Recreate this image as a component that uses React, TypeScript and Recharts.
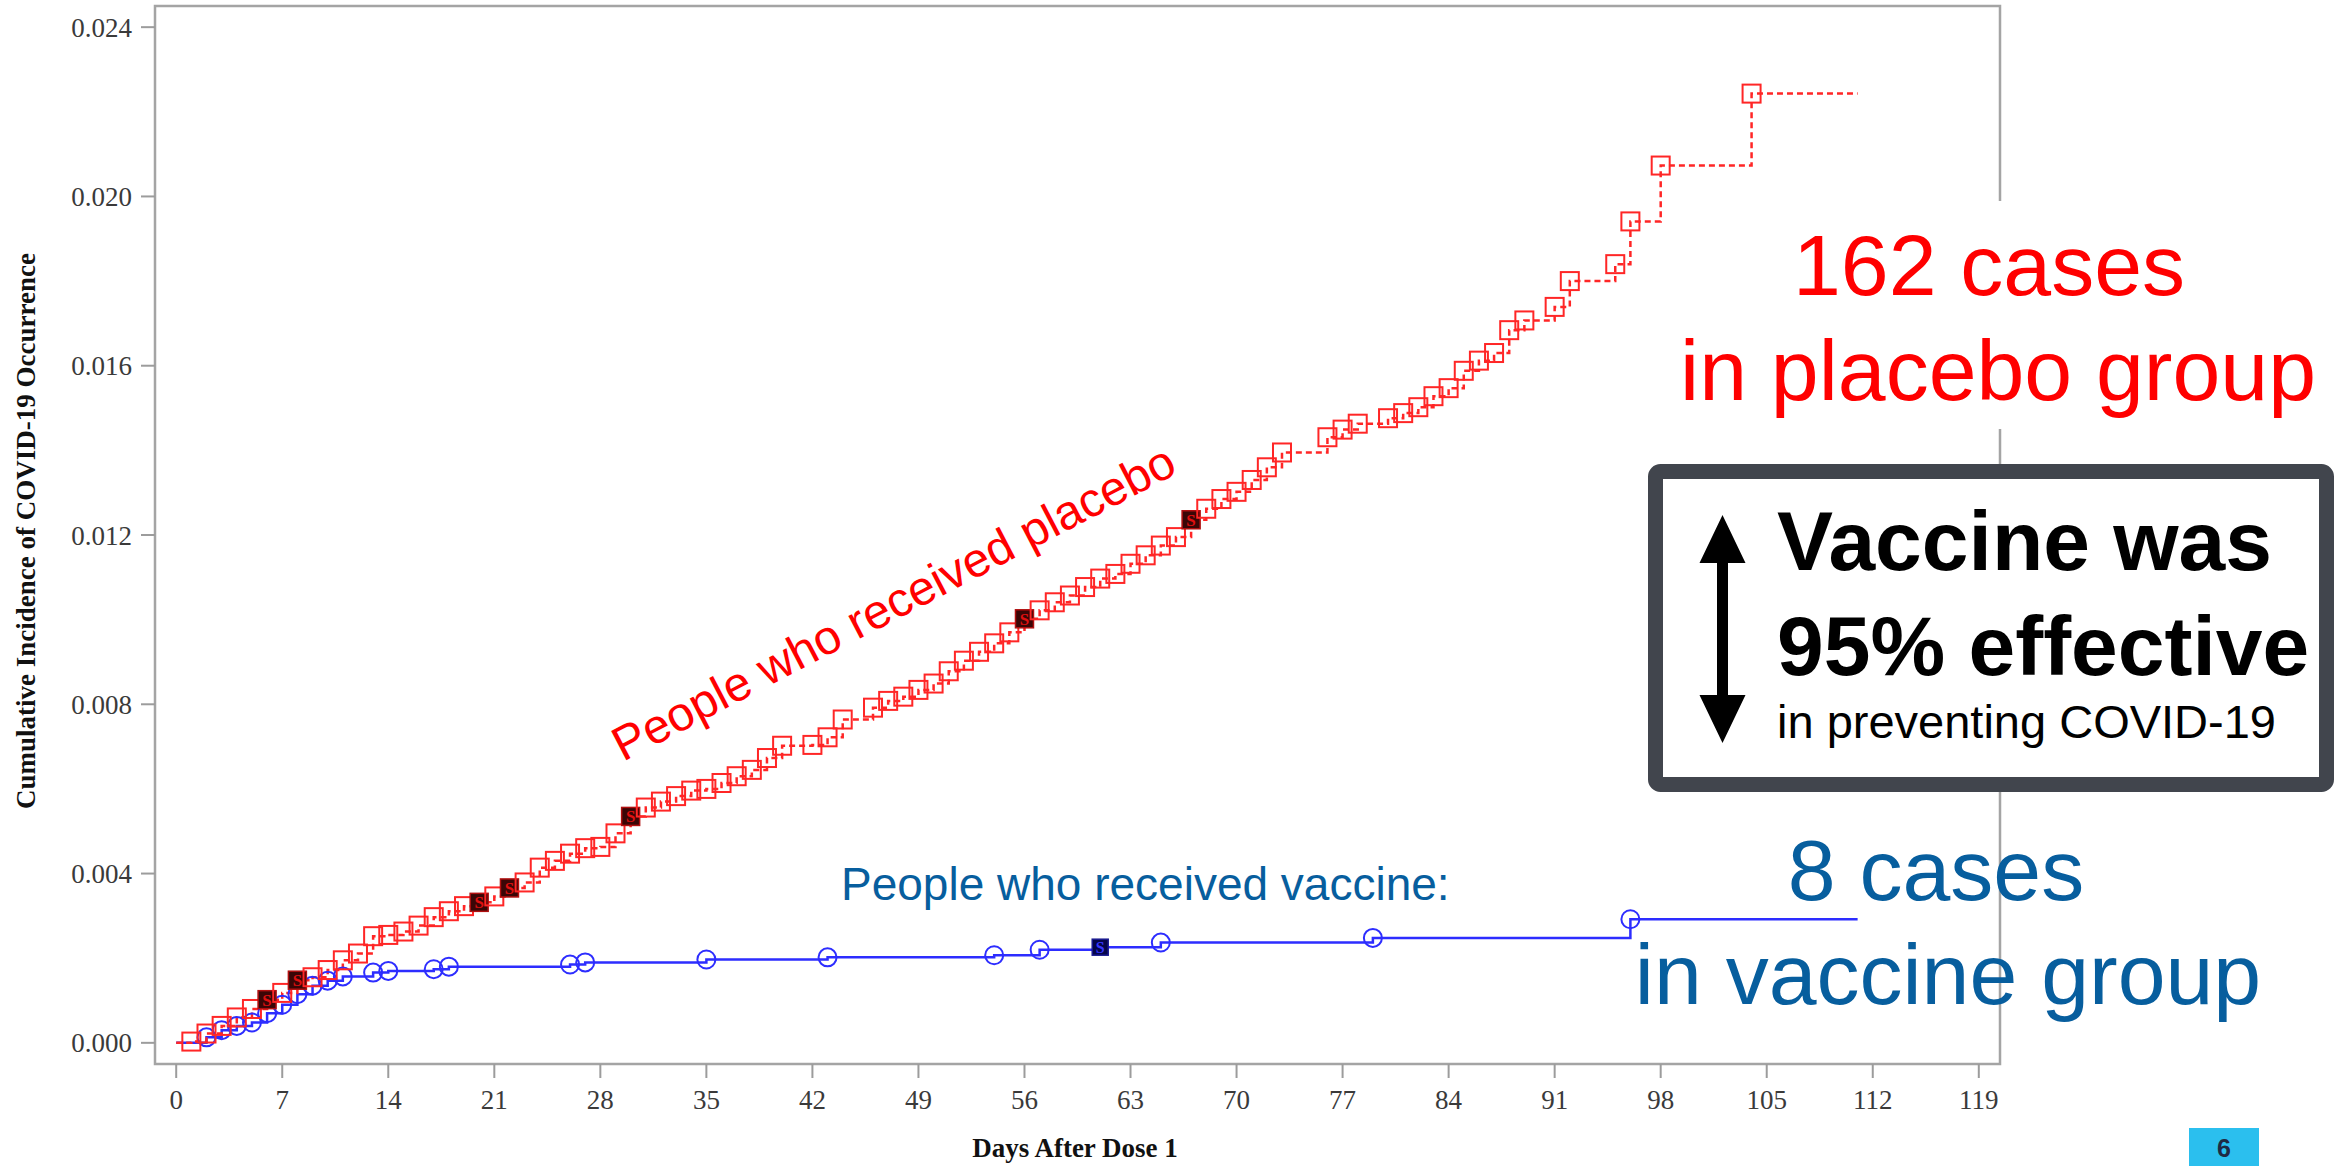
import React from 'react';
import { LineChart, Line, XAxis, YAxis, ReferenceArea } from 'recharts';

// cumulative incidence, one value per event day
const placeboDays = [
  1, 2, 3, 4, 5, 6, 7, 8, 9, 10, 11, 12, 13, 14, 15, 16, 17, 18, 19, 20,
  21, 22, 23, 24, 25, 26, 27, 28, 29, 30, 31, 32, 33, 34, 35, 36, 37, 38, 39, 40,
  42, 43, 44, 46, 47, 48, 49, 50, 51, 52, 53, 54, 55, 56, 57, 58, 59, 60,
  61, 62, 63, 64, 65, 66, 67, 68, 69, 70, 71, 72, 73, 76, 77, 78, 80,
  81, 82, 83, 84, 85, 86, 87, 88, 89, 91, 92, 95, 96, 98, 104,
];
const placeboRisk = [
  0.00003, 0.00022, 0.0004, 0.0006, 0.0008, 0.00102, 0.00118, 0.00148, 0.00155, 0.00172,
  0.00195, 0.00211, 0.00252, 0.00255, 0.00263, 0.00277, 0.00297, 0.00311, 0.00323, 0.00332,
  0.00346, 0.00366, 0.00379, 0.00414, 0.0043, 0.00447, 0.0046, 0.00463, 0.00495, 0.00535,
  0.00556, 0.0057, 0.00583, 0.00596, 0.006, 0.00614, 0.0063, 0.00645, 0.00673, 0.00702,
  0.00704, 0.00722, 0.00764, 0.00792, 0.00808, 0.00818, 0.00834, 0.00849, 0.00878, 0.00903,
  0.00924, 0.00944, 0.0097, 0.01002, 0.01022, 0.01041, 0.01057, 0.01077,
  0.01097, 0.01108, 0.01132, 0.01152, 0.01175, 0.01195, 0.01236, 0.01262, 0.01285, 0.01302,
  0.0133, 0.0136, 0.01395, 0.01431, 0.01449, 0.01463, 0.01476,
  0.01488, 0.01502, 0.01528, 0.01547, 0.01588, 0.01612, 0.0163, 0.01684, 0.01707,
  0.01739, 0.018, 0.0184, 0.01941, 0.02073, 0.02243,
];
const placeboSevereDays = [6, 8, 20, 22, 30, 56, 67];

const vaccineDays = [2, 3, 4, 5, 6, 7, 8, 9, 10, 11, 13, 14, 17, 18, 26, 27, 35, 43, 54, 57, 61, 65, 79, 96];
const vaccineRisk = [
  0.00013, 0.0003, 0.0004, 0.00048, 0.0007, 0.0009, 0.00115, 0.00135, 0.00147, 0.00157,
  0.00166, 0.0017, 0.00174, 0.0018, 0.00185, 0.0019, 0.00197, 0.00202, 0.00207, 0.0022,
  0.00226, 0.00237, 0.00248, 0.00292,
];
const vaccineSevereDays = [61];

const followUpEndDay = 111;

const xTicks = [0, 7, 14, 21, 28, 35, 42, 49, 56, 63, 70, 77, 84, 91, 98, 105, 112, 119];
const yTicks = [0, 0.004, 0.008, 0.012, 0.016, 0.02, 0.024];

const X_DOMAIN: [number, number] = [-1.4, 120.4];
const Y_DOMAIN: [number, number] = [-0.0005, 0.0245];

function buildSeries(days: number[], risk: number[], severe: number[]) {
  const rows = [{ day: 0, risk: 0, mark: 'none' }];
  days.forEach((d, i) => {
    rows.push({ day: d, risk: risk[i], mark: severe.includes(d) ? 'severe' : 'event' });
  });
  rows.push({ day: followUpEndDay, risk: risk[risk.length - 1], mark: 'none' });
  return rows;
}

const placeboSeries = buildSeries(placeboDays, placeboRisk, placeboSevereDays);
const vaccineSeries = buildSeries(vaccineDays, vaccineRisk, vaccineSevereDays);

const RED = '#ff2626';
const BLUE = '#2d2dff';
const TEXT_BLUE = '#075e9e';
const SANS = '"Liberation Sans", Arial, sans-serif';
const SERIF = '"Liberation Serif", "Times New Roman", serif';

const PlaceboDot = (props: any) => {
  const { cx, cy, payload, index } = props;
  const key = `pd-${index}`;
  if (cx == null || cy == null || payload.mark === 'none') return <g key={key} />;
  if (payload.mark === 'severe') {
    return (
      <g key={key}>
        <rect x={cx - 9} y={cy - 9} width={18} height={18} fill="#3a0606" stroke="#b01010" strokeWidth={1.5} />
        <text x={cx} y={cy + 6} textAnchor="middle" fontFamily={SERIF} fontWeight="bold" fontSize={17} fill="#e01010">S</text>
      </g>
    );
  }
  return <rect key={key} x={cx - 9} y={cy - 9} width={18} height={18} fill="none" stroke={RED} strokeWidth={2} />;
};

const VaccineDot = (props: any) => {
  const { cx, cy, payload, index } = props;
  const key = `vd-${index}`;
  if (cx == null || cy == null || payload.mark === 'none') return <g key={key} />;
  if (payload.mark === 'severe') {
    return (
      <g key={key}>
        <rect x={cx - 8} y={cy - 8} width={16} height={16} fill="#05054a" stroke="#1a1a90" strokeWidth={1.5} />
        <text x={cx} y={cy + 6} textAnchor="middle" fontFamily={SERIF} fontWeight="bold" fontSize={16} fill="#3838ff">S</text>
      </g>
    );
  }
  return <circle key={key} cx={cx} cy={cy} r={9} fill="none" stroke={BLUE} strokeWidth={2} />;
};

const tickStyle = { fontFamily: SERIF, fontSize: 27, fill: '#3a3a3a' };

export default function App() {
  return (
    <div style={{ position: 'absolute', left: 0, top: 0, width: 2334, height: 1166, background: '#fff', overflow: 'hidden' }}>
      <LineChart width={2334} height={1166} margin={{ top: 6, right: 334, bottom: 0, left: 0 }}>
        <XAxis
          type="number"
          dataKey="day"
          domain={X_DOMAIN}
          ticks={xTicks}
          allowDataOverflow
          axisLine={false}
          tickLine={{ stroke: '#9c9c9c', strokeWidth: 2 }}
          tickSize={14}
          tickMargin={12}
          height={102}
          tick={tickStyle}
        />
        <YAxis
          type="number"
          domain={Y_DOMAIN}
          ticks={yTicks}
          allowDataOverflow
          axisLine={false}
          tickLine={{ stroke: '#9c9c9c', strokeWidth: 2 }}
          tickSize={14}
          tickMargin={9}
          width={155}
          tick={tickStyle}
          tickFormatter={(v: number) => v.toFixed(3)}
        />
        <ReferenceArea
          x1={X_DOMAIN[0]}
          x2={X_DOMAIN[1]}
          y1={Y_DOMAIN[0]}
          y2={Y_DOMAIN[1]}
          fill="none"
          stroke="#a4a4a4"
          strokeWidth={2.5}
          ifOverflow="visible"
        />
        <Line
          data={vaccineSeries}
          dataKey="risk"
          type="stepAfter"
          stroke={BLUE}
          strokeWidth={2.5}
          dot={VaccineDot}
          activeDot={false}
          isAnimationActive={false}
        />
        <Line
          data={placeboSeries}
          dataKey="risk"
          type="stepAfter"
          stroke={RED}
          strokeWidth={2.5}
          strokeDasharray="6 4"
          dot={PlaceboDot}
          activeDot={false}
          isAnimationActive={false}
        />
      </LineChart>

      <svg width={2334} height={1166} style={{ position: 'absolute', left: 0, top: 0, pointerEvents: 'none' }}>
        {/* axis titles */}
        <text transform="translate(35,531) rotate(-90)" textAnchor="middle" fontFamily={SERIF} fontWeight="bold" fontSize={27} fill="#111">
          Cumulative Incidence of COVID-19 Occurrence
        </text>
        <text x={1075} y={1157} textAnchor="middle" fontFamily={SERIF} fontWeight="bold" fontSize={27} fill="#111">
          Days After Dose 1
        </text>

        {/* series labels */}
        <text transform="translate(623,762) rotate(-27.5)" fontFamily={SANS} fontSize={48} fill="#ff0000">
          People who received placebo
        </text>
        <text x={841} y={900} fontFamily={SANS} fontSize={46} fill={TEXT_BLUE}>
          People who received vaccine:
        </text>

        {/* placebo case count */}
        <rect x={1700} y={201} width={620} height={228} fill="#fff" />
        <text x={1989} y={295} textAnchor="middle" fontFamily={SANS} fontSize={86} fill="#ff0000">162 cases</text>
        <text x={1998} y={400} textAnchor="middle" fontFamily={SANS} fontSize={86} fill="#ff0000">in placebo group</text>

        {/* efficacy box */}
        <rect x={1655.5} y={471.5} width={671} height={313} rx={5} fill="#fff" stroke="#41454d" strokeWidth={15} />
        <polygon
          points="1722.5,515 1745.5,563 1728,563 1728,695 1745.5,695 1722.5,743 1699.5,695 1717,695 1717,563 1699.5,563"
          fill="#000"
        />
        <text x={1777} y={570} fontFamily={SANS} fontWeight="bold" fontSize={84} fill="#000">Vaccine was</text>
        <text x={1777} y={675} fontFamily={SANS} fontWeight="bold" fontSize={84} fill="#000">95% effective</text>
        <text x={1777} y={738} fontFamily={SANS} fontSize={47} fill="#000">in preventing COVID-19</text>

        {/* vaccine case count */}
        <text x={1936} y={900} textAnchor="middle" fontFamily={SANS} fontSize={86} fill={TEXT_BLUE}>8 cases</text>
        <text x={1948} y={1004} textAnchor="middle" fontFamily={SANS} fontSize={86} fill={TEXT_BLUE}>in vaccine group</text>

        {/* slide number */}
        <rect x={2189} y={1128} width={70} height={38} fill="#2bbfee" />
        <text x={2224} y={1157} textAnchor="middle" fontFamily={SANS} fontWeight="bold" fontSize={25} fill="#1f2a44">6</text>
      </svg>
    </div>
  );
}
